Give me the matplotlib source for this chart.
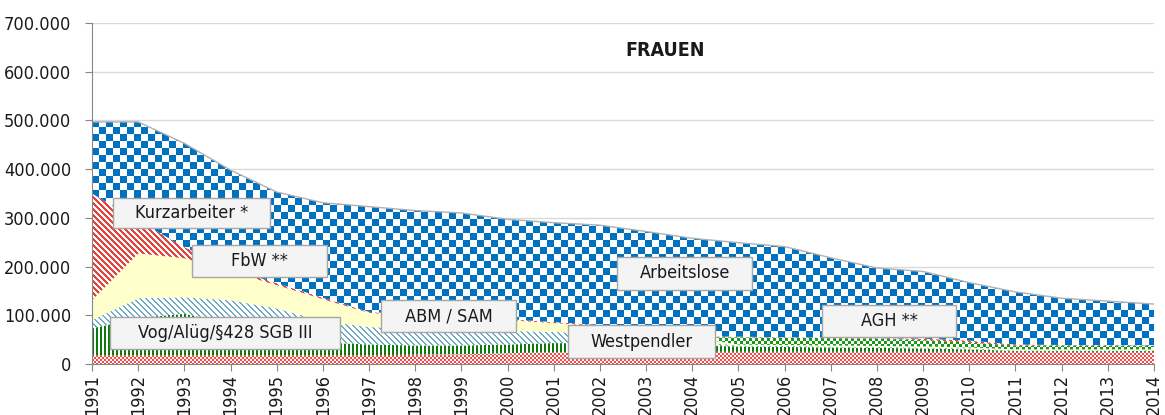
import numpy as np
import matplotlib
matplotlib.use("Agg")
import matplotlib.pyplot as plt
from matplotlib.colors import to_rgba
from matplotlib.patches import Rectangle

plt.rcParams['font.family'] = ['Liberation Sans Narrow', 'DejaVu Sans']
plt.rcParams['font.stretch'] = 'condensed'

years = list(range(1991, 2015))

# Frauen, in Tausend (von unten nach oben gestapelt)
westpendler = [18, 18, 18, 18, 18, 18, 18, 19, 20, 22, 24, 25, 25, 25, 25, 25, 25, 25, 25, 25, 25, 25, 25, 25]
vog_alueg = [55, 77, 85, 65, 46, 26, 22, 19, 18, 18, 19, 17, 15, 13, 11, 10, 9, 8, 7, 5, 2, 2, 2, 2]
abm_sam = [17, 40, 34, 48, 50, 44, 36, 34, 32, 28, 23, 20, 15, 9, 2, 2, 2, 2, 2, 2, 1, 1, 1, 1]
fbw = [41, 92, 80, 59, 48, 45, 29, 26, 24, 22, 18, 16, 15, 8, 2, 2, 2, 2, 2, 2, 2, 2, 2, 2]
agh = [0, 0, 0, 0, 0, 0, 0, 0, 0, 0, 0, 0, 0, 0, 15, 15, 15, 15, 13, 10, 8, 8, 8, 7]
kurzarbeiter = [219, 67, 23, 5, 4, 3, 2, 2, 2, 2, 2, 2, 2, 2, 1, 1, 1, 1, 3, 4, 2, 1, 1, 1]
arbeitslose = [147, 203, 213, 203, 187, 195, 216, 215, 214, 205, 204, 205, 200, 201, 193, 186, 164, 144, 138, 119, 108, 96, 90, 85]

series = [westpendler, vog_alueg, abm_sam, fbw, agh, kurzarbeiter, arbeitslose]

# Beschriftungen: Text, Mitte (Jahr, Wert), Kastengroesse in Pixel
labels = [
    ("Kurzarbeiter *", 1993.15, 310000, 157, 30),
    ("FbW **", 1994.63, 211000, 135, 32),
    ("Vog/Alüg/§428 SGB III", 1993.88, 64000, 230, 32),
    ("ABM / SAM", 1998.73, 98500, 135, 32),
    ("Westpendler", 2002.9, 46000, 147, 33),
    ("Arbeitslose", 2003.84, 186000, 135, 33),
    ("AGH **", 2008.26, 88000, 134, 32),
]

W, H = 1062, 341
fig = plt.figure(figsize=(11.65, 4.15), dpi=100)
ax = fig.add_axes([92 / 1165, 51 / 415, W / 1165, H / 415])

# Muster als Pixelbilder
yy, xx = np.mgrid[0:H, 0:W]


def pattern(mask, fg, bg="white"):
    img = np.empty((H, W, 4))
    img[:] = to_rgba(bg)
    img[mask] = to_rgba(fg)
    return img


fills = [
    pattern((xx // 2 + yy // 2) % 2 == 0, "#ff4444"),
    pattern(xx % 4 < 2, "#0a7a0a"),
    pattern((xx - yy) % 6 < 2, "#6fabc4"),
    None,
    pattern((xx // 3 + yy // 3) % 2 == 0, "#169a16"),
    pattern((xx - yy) % 6 < 3, "#e8403a"),
    pattern((xx // 7 + yy // 7) % 2 == 0, "#0070c0"),
]

x = np.array(years)
bottom = np.zeros(len(years))
for vals, img in zip(series, fills):
    top = bottom + np.array(vals) * 1000
    if img is None:
        ax.fill_between(x, bottom, top, facecolor="#ffffcc", edgecolor="none", zorder=1)
    else:
        poly = ax.fill_between(x, bottom, top, facecolor="none", edgecolor="none", zorder=1)
        im = ax.imshow(img, extent=(0, 1, 0, 1), transform=ax.transAxes,
                       aspect="auto", interpolation="nearest", zorder=1)
        im.set_clip_path(poly.get_paths()[0], transform=ax.transData)
    bottom = top

ax.plot(x, bottom, color="#b0b0b0", lw=1, zorder=2)

ax.set_xlim(1991, 2014)
ax.set_ylim(0, 700000)
ax.set_xticks(years)
ax.set_xticklabels([str(y) for y in years], rotation=90, fontsize=13)
ax.set_yticks(range(0, 700001, 100000))
ax.set_yticklabels(["0"] + [f"{v:,}".replace(",", ".") for v in range(100000, 700001, 100000)], fontsize=13)
ax.yaxis.grid(True, color="#d9d9d9", lw=1)
ax.set_axisbelow(True)
for s in ["top", "right"]:
    ax.spines[s].set_visible(False)
for s in ["left", "bottom"]:
    ax.spines[s].set_color("#868686")
ax.tick_params(colors="#868686", length=5, labelcolor="#1a1a1a")
ax.tick_params(axis="x", pad=2)
ax.tick_params(axis="y", pad=10)

for text, cx, cy, w, h in labels:
    fx = (cx - 1991) / 23
    fy = cy / 700000
    ax.add_patch(Rectangle((fx - w / 2 / W, fy - h / 2 / H), w / W, h / H, transform=ax.transAxes,
                           facecolor="#f4f4f4", edgecolor="#a6a6a6", lw=1, zorder=5))
    ax.text(fx, fy, text, transform=ax.transAxes, ha="center", va="center",
            fontsize=13, color="#1a1a1a", zorder=6)

ax.text((665 - 92) / W, (364 - 50) / H, "FRAUEN", transform=ax.transAxes, ha="center",
        va="center", fontsize=14, fontweight="bold", color="#1a1a1a", zorder=6)

fig.savefig("out.png", dpi=100)
